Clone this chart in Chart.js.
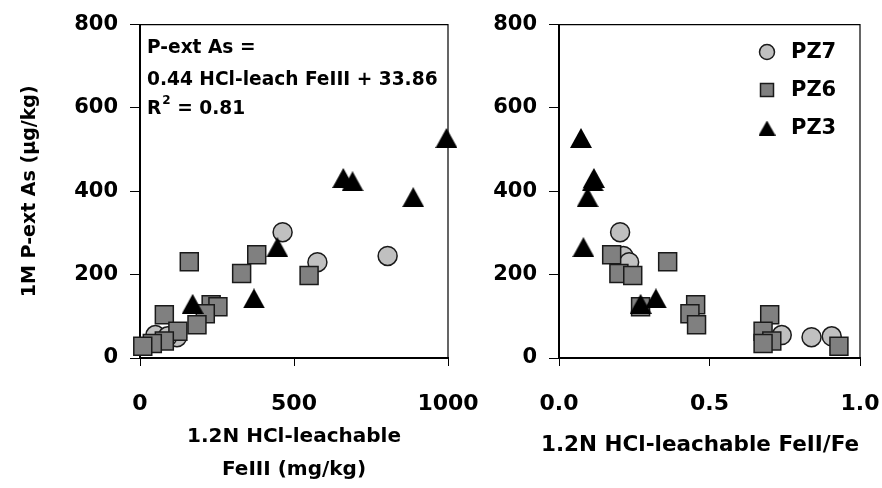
<!DOCTYPE html>
<html>
<head>
<meta charset="utf-8">
<script src="https://cdn.jsdelivr.net/npm/chart.js@4/dist/chart.umd.min.js"></script>
<style>
  html, body { margin: 0; padding: 0; background: #fff; overflow: hidden; }
  #wrap { position: relative; width: 882px; height: 488px; overflow: hidden; }
  #wrap canvas { position: absolute; left: 0; top: 0; }
</style>
</head>
<body>
<div id="wrap">
  <canvas id="leftChart" width="960" height="488"></canvas>
  <canvas id="rightChart" width="960" height="488"></canvas>
</div>
<script>
// Series labels
const seriesNames = ['PZ7', 'PZ6', 'PZ3'];

// PZ7: 1M P-extractable As (ug/kg), HCl-leachable FeIII (mg/kg), FeII/Fe ratio
const pz7As      = [302, 245, 230, 55, 50, 52];
const pz7FeIII   = [463, 804, 576, 50, 120, 90];
const pz7FeRatio = [0.203, 0.214, 0.233, 0.740, 0.839, 0.906];

// PZ6
const pz6As      = [248, 231, 203, 198, 128, 123, 106, 104, 80, 64, 41, 35, 28];
const pz6FeIII   = [379, 160, 330, 549, 231, 253, 212, 79, 185, 123, 79, 40, 9];
const pz6FeRatio = [0.175, 0.361, 0.199, 0.245, 0.454, 0.271, 0.435, 0.700, 0.457, 0.678, 0.707, 0.678, 0.930];

// PZ3
const pz3As      = [528, 432, 424, 386, 266, 143, 130];
const pz3FeIII   = [995, 660, 690, 887, 446, 370, 171];
const pz3FeRatio = [0.073, 0.116, 0.112, 0.095, 0.081, 0.322, 0.271];

// Axis ticks
const asTicks = [0, 200, 400, 600, 800];
const feIIITicks = [0, 500, 1000];
const ratioTicks = [0, 0.5, 1];
const ratioTickLabels = ['0.0', '0.5', '1.0'];

// Axis titles
const asTitle = '1M P-ext As (μg/kg)';
const feIIITitle = ['1.2N HCl-leachable', 'FeIII (mg/kg)'];
const ratioTitle = '1.2N HCl-leachable FeII/Fe';

// Regression annotation
const fitLines = ['P-ext As =', '0.44 HCl-leach FeIII + 33.86'];
const r2Text = ['R', '2', ' = 0.81'];

const FONT = 'DejaVu Sans';

function triangleImage(w, h, color) {
  const c = document.createElement('canvas');
  c.width = w; c.height = h;
  const g = c.getContext('2d');
  g.fillStyle = color;
  g.beginPath();
  g.moveTo(w / 2, 0);
  g.lineTo(w, h);
  g.lineTo(0, h);
  g.closePath();
  g.fill();
  return c;
}
const triMarker = triangleImage(22, 20, '#000');
const triLegend = triangleImage(17, 15, '#000');

function pairs(xs, ys) { return xs.map((x, i) => ({ x: x, y: ys[i] })); }

function makeDatasets(pz7x, pz6x, pz3x) {
  return [
    { label: seriesNames[0], data: pairs(pz7x, pz7As), pointStyle: 'circle', pointRadius: 9.5,
      backgroundColor: '#c0c0c0', borderColor: '#1a1a1a', borderWidth: 1.5, order: 3, clip: false },
    { label: seriesNames[1], data: pairs(pz6x, pz6As), pointStyle: 'rect', pointRadius: 12.7,
      backgroundColor: '#808080', borderColor: '#1a1a1a', borderWidth: 1.5, order: 2, clip: false },
    { label: seriesNames[2], data: pairs(pz3x, pz3As), pointStyle: triMarker, pointRadius: 11,
      backgroundColor: '#000', borderColor: '#000', borderWidth: 0, order: 1, clip: false }
  ];
}

// Thin frame on the top and right of the plot area
const frame = {
  id: 'frame',
  beforeDatasetsDraw(chart) {
    const { ctx, chartArea: a } = chart;
    ctx.save();
    ctx.strokeStyle = '#000';
    ctx.lineWidth = 1.2;
    ctx.beginPath();
    ctx.moveTo(a.left, a.top);
    ctx.lineTo(a.right, a.top);
    ctx.lineTo(a.right, a.bottom);
    ctx.stroke();
    ctx.restore();
  }
};

// Regression equation written inside the left plot
const equation = {
  id: 'equation',
  afterDatasetsDraw(chart) {
    const { ctx, chartArea: a } = chart;
    ctx.save();
    ctx.fillStyle = '#000';
    ctx.textBaseline = 'alphabetic';
    ctx.textAlign = 'left';
    const big = 'bold 18.6px "' + FONT + '"';
    ctx.font = big;
    const x = a.left + 7;
    ctx.fillText(fitLines[0], x, 53);
    ctx.fillText(fitLines[1], x, 85);
    let cx = x;
    ctx.fillText(r2Text[0], cx, 114);
    cx += ctx.measureText(r2Text[0]).width;
    ctx.font = 'bold 12px "' + FONT + '"';
    ctx.fillText(r2Text[1], cx + 1, 104);
    cx += ctx.measureText(r2Text[1]).width + 1;
    ctx.font = big;
    ctx.fillText(r2Text[2], cx, 114);
    ctx.restore();
  }
};

// Series key inside the right plot
const insideKey = {
  id: 'insideKey',
  afterDatasetsDraw(chart) {
    const { ctx } = chart;
    const mx = 767, tx = 791, rows = [52, 90, 128];
    ctx.save();
    chart.data.datasets.forEach((ds, i) => {
      const y = rows[i];
      ctx.fillStyle = ds.backgroundColor;
      ctx.strokeStyle = ds.borderColor;
      ctx.lineWidth = 1.5;
      if (ds.pointStyle === 'circle') {
        ctx.beginPath();
        ctx.arc(mx, y, 7.5, 0, Math.PI * 2);
        ctx.fill(); ctx.stroke();
      } else if (ds.pointStyle === 'rect') {
        ctx.beginPath();
        ctx.rect(mx - 6.5, y - 6.5, 13, 13);
        ctx.fill(); ctx.stroke();
      } else {
        ctx.drawImage(triLegend, mx - triLegend.width / 2, y - triLegend.height / 2);
      }
      ctx.fillStyle = '#000';
      ctx.font = 'bold 21px "' + FONT + '"';
      ctx.textAlign = 'left';
      ctx.textBaseline = 'middle';
      ctx.fillText(ds.label, tx, y + 1);
    });
    ctx.restore();
  }
};

// Right-panel x title: wider than its axis, so it is written without squeezing
const ratioAxisTitle = {
  id: 'ratioAxisTitle',
  afterDraw(chart) {
    const { ctx } = chart;
    ctx.save();
    ctx.fillStyle = '#000';
    ctx.font = 'bold 21.5px "' + FONT + '"';
    ctx.textAlign = 'center';
    ctx.textBaseline = 'middle';
    ctx.fillText(ratioTitle, 700, 445);
    ctx.restore();
  }
};

function yAxis(width, title) {
  return {
    type: 'linear',
    min: 0, max: 800,
    afterBuildTicks: s => { s.ticks = asTicks.map(v => ({ value: v })); },
    afterFit: s => { s.width = width; },
    ticks: { color: '#000', padding: 12, font: { family: FONT, size: 21, weight: 'bold' } },
    grid: { drawOnChartArea: false, drawTicks: true, tickLength: 10, color: '#000', lineWidth: 1 },
    border: { display: true, color: '#000', width: 2 },
    title: title
  };
}

function xAxis(min, max, tickValues, labelFn, title) {
  return {
    type: 'linear',
    min: min, max: max,
    afterBuildTicks: s => { s.ticks = tickValues.map(v => ({ value: v })); },
    afterFit: s => { s.height = 130; },
    ticks: { color: '#000', padding: 25, maxRotation: 0, font: { family: FONT, size: 22, weight: 'bold' },
             callback: labelFn },
    grid: { drawOnChartArea: false, drawTicks: true, tickLength: 8, color: '#000', lineWidth: 1 },
    border: { display: true, color: '#000', width: 2 },
    title: title
  };
}

const common = {
  responsive: false,
  animation: false,
  events: [],
  plugins: { legend: { display: false }, tooltip: { enabled: false } }
};

new Chart(document.getElementById('leftChart'), {
  type: 'scatter',
  data: { datasets: makeDatasets(pz7FeIII, pz6FeIII, pz3FeIII) },
  options: Object.assign({}, common, {
    layout: { autoPadding: false, padding: { left: 0, top: 18, right: 960 - 448, bottom: 0 } },
    scales: {
      x: xAxis(0, 1000, feIIITicks, v => String(v), {
        display: true, text: feIIITitle, color: '#000',
        font: { family: FONT, size: 20, weight: 'bold', lineHeight: 1.65 }, padding: { top: 0, bottom: 2 } }),
      y: yAxis(140, { display: true, text: asTitle, color: '#000',
        font: { family: FONT, size: 19, weight: 'bold' }, padding: { top: 19, bottom: 0 } })
    }
  }),
  plugins: [frame, equation]
});

new Chart(document.getElementById('rightChart'), {
  type: 'scatter',
  data: { datasets: makeDatasets(pz7FeRatio, pz6FeRatio, pz3FeRatio) },
  options: Object.assign({}, common, {
    layout: { autoPadding: false, padding: { left: 0, top: 18, right: 960 - 860, bottom: 0 } },
    scales: {
      x: xAxis(0, 1, ratioTicks, (v) => ratioTickLabels[ratioTicks.indexOf(v)], { display: false }),
      y: yAxis(559, { display: false })
    }
  }),
  plugins: [frame, insideKey, ratioAxisTitle]
});
</script>
</body>
</html>
